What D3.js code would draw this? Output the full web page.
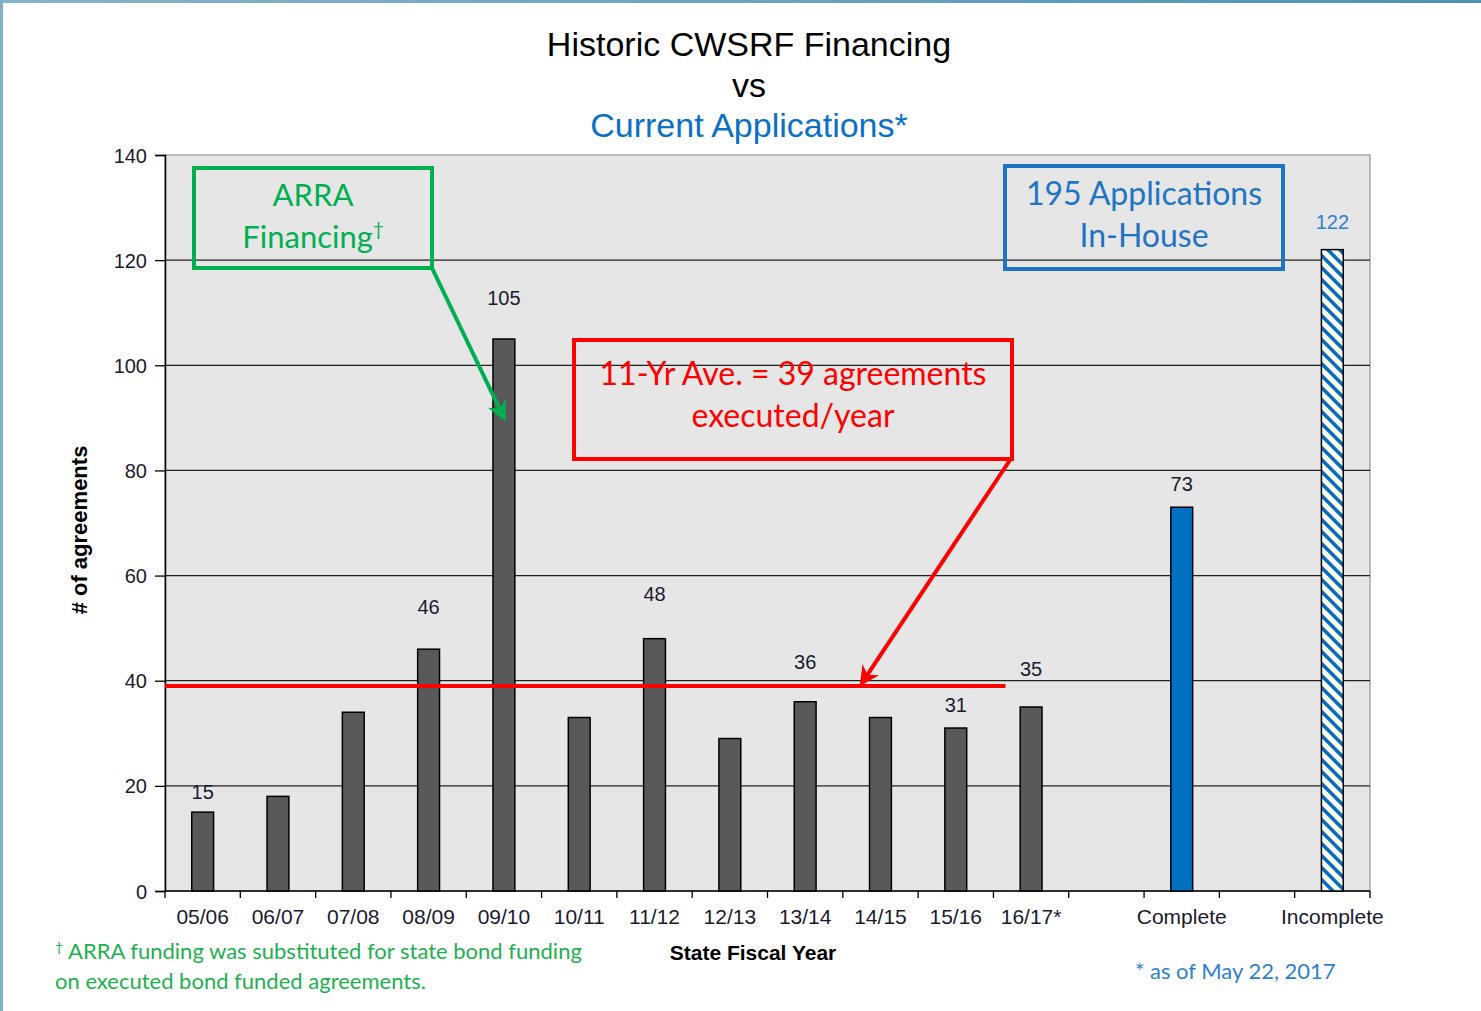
<!DOCTYPE html>
<html>
<head>
<meta charset="utf-8">
<script src="https://cdn.jsdelivr.net/npm/d3@7"></script>
<style>
  html, body { margin: 0; padding: 0; background: #fff; }
  svg { display: block; }
</style>
</head>
<body>
<svg id="chart" width="1481" height="1011"></svg>
<script>
// categories along the x axis (blank slots keep the gaps)
var categories = ['05/06','06/07','07/08','08/09','09/10','10/11','11/12','12/13','13/14','14/15','15/16','16/17*','', 'Complete', ' ', 'Incomplete'];
// agreements executed per state fiscal year, then current applications
var values = [15, 18, 34, 46, 105, 33, 48, 29, 36, 33, 31, 35, null, 73, null, 122];
// which bars carry a value label
var showLabel = [true, false, false, true, true, false, true, false, true, false, true, true, false, true, false, true];
var yTicks = [0, 20, 40, 60, 80, 100, 120, 140];
var average = 39;

var svg = d3.select('#chart'),
    margin = {top: 155, right: 111, bottom: 120, left: 165},
    width = 1481 - margin.left - margin.right,
    height = 1011 - margin.top - margin.bottom;

var armFont = '"Liberation Sans", Arial, sans-serif',
    noteFont = 'Lato, "Open Sans", sans-serif';

// frame around the slide
var defs = svg.append('defs');
var grad = defs.append('linearGradient').attr('id', 'topEdge');
grad.append('stop').attr('offset', '0%').attr('stop-color', '#86b4ca');
grad.append('stop').attr('offset', '100%').attr('stop-color', '#4e93b3');
svg.append('rect').attr('x', 0).attr('y', 0).attr('width', 1481).attr('height', 3).attr('fill', 'url(#topEdge)');
svg.append('rect').attr('x', 0).attr('y', 0).attr('width', 3).attr('height', 1011).attr('fill', '#7fb0c8');

// hatch for the incomplete bar
var hatch = defs.append('pattern')
    .attr('id', 'hatch')
    .attr('patternUnits', 'userSpaceOnUse')
    .attr('width', 12).attr('height', 12);
hatch.append('rect').attr('width', 12).attr('height', 12).attr('fill', '#fff');
hatch.append('path')
    .attr('d', 'M-3,-3 L15,15 M-3,9 L3,15 M9,-3 L15,3')
    .attr('stroke', '#0a6cc0')
    .attr('stroke-width', 3.6);

// titles
var title = svg.append('g').attr('font-family', armFont).attr('text-anchor', 'middle');
title.append('text').attr('x', 749).attr('y', 56).attr('font-size', 34).attr('fill', '#000').text('Historic CWSRF Financing');
title.append('text').attr('x', 749).attr('y', 97).attr('font-size', 34).attr('fill', '#000').text('vs');
title.append('text').attr('x', 749).attr('y', 137).attr('font-size', 34).attr('fill', '#0a70c8').text('Current Applications*');

var g = svg.append('g').attr('transform', 'translate(' + margin.left + ',' + margin.top + ')');

var x = d3.scaleBand().domain(categories).range([0, width]).padding(0);
var y = d3.scaleLinear().domain([0, 140]).range([height, 0]);
var barW = x.bandwidth() * 0.29;

// plot area
g.append('rect')
    .attr('width', width).attr('height', height)
    .attr('fill', '#e6e6e6')
    .attr('stroke', '#a6a6a6').attr('stroke-width', 1.5);

// gridlines
g.selectAll('line.grid')
    .data(yTicks.filter(function(d) { return d > 0 && d < 140; }))
    .enter().append('line')
    .attr('class', 'grid')
    .attr('x1', 0).attr('x2', width)
    .attr('y1', function(d) { return y(d); })
    .attr('y2', function(d) { return y(d); })
    .attr('stroke', '#222').attr('stroke-width', 1.3);

// y axis
var yAxis = d3.axisLeft(y).tickValues(yTicks).tickSize(10).tickPadding(8);
var yg = g.append('g').call(yAxis);
yg.select('.domain').attr('stroke', '#000').attr('stroke-width', 1.5);
yg.selectAll('.tick line').attr('stroke', '#000').attr('stroke-width', 1.3);
yg.selectAll('.tick text')
    .attr('font-family', armFont).attr('font-size', 20).attr('fill', '#1a1a2e')
    .attr('dy', '0.35em');

// x axis: ticks sit between the categories
var xg = g.append('g').attr('transform', 'translate(0,' + height + ')');
xg.append('line').attr('x1', 0).attr('x2', width).attr('stroke', '#000').attr('stroke-width', 1.5);
xg.selectAll('line.tick')
    .data(d3.range(categories.length + 1))
    .enter().append('line')
    .attr('x1', function(i) { return i * x.step(); })
    .attr('x2', function(i) { return i * x.step(); })
    .attr('y1', 0).attr('y2', 7)
    .attr('stroke', '#000').attr('stroke-width', 1.3);
xg.selectAll('text')
    .data(categories)
    .enter().append('text')
    .attr('x', function(d) { return x(d) + x.bandwidth() / 2; })
    .attr('y', 33)
    .attr('text-anchor', 'middle')
    .attr('font-family', armFont).attr('font-size', 21).attr('fill', '#1a1a2e')
    .text(function(d) { return d.trim(); });

// axis titles
svg.append('text')
    .attr('x', 753).attr('y', 960)
    .attr('text-anchor', 'middle')
    .attr('font-family', armFont).attr('font-size', 21).attr('font-weight', 'bold')
    .text('State Fiscal Year');
svg.append('text')
    .attr('transform', 'translate(87,530) rotate(-90)')
    .attr('text-anchor', 'middle')
    .attr('font-family', armFont).attr('font-size', 22).attr('font-weight', 'bold')
    .text('# of agreements');

// bars
var barData = categories.map(function(c, i) { return {cat: c, v: values[i], i: i}; })
    .filter(function(d) { return d.v !== null; });

function barFill(d) {
    if (d.cat === 'Complete') return '#0070c0';
    if (d.cat === 'Incomplete') return 'url(#hatch)';
    return '#595959';
}

g.selectAll('rect.bar')
    .data(barData)
    .enter().append('rect')
    .attr('class', 'bar')
    .attr('x', function(d) { return x(d.cat) + (x.bandwidth() - barW) / 2; })
    .attr('y', function(d) { return y(d.v); })
    .attr('width', barW)
    .attr('height', function(d) { return height - y(d.v); })
    .attr('fill', barFill)
    .attr('stroke', '#000').attr('stroke-width', 1.5);

// labels were nudged by hand in the original, so lift each one a little differently
var labelLift = {0: 13, 3: 35, 4: 34, 6: 38, 8: 33, 10: 16, 11: 31, 13: 16, 15: 21};
g.selectAll('text.val')
    .data(barData.filter(function(d) { return showLabel[d.i]; }))
    .enter().append('text')
    .attr('class', 'val')
    .attr('x', function(d) { return x(d.cat) + x.bandwidth() / 2; })
    .attr('y', function(d) { return y(d.v) - labelLift[d.i]; })
    .attr('text-anchor', 'middle')
    .attr('font-family', armFont).attr('font-size', 20)
    .attr('fill', function(d) { return d.cat === 'Incomplete' ? '#2f7fd0' : '#1a1a2e'; })
    .text(function(d) { return d.v; });

// 11-year average line
var avgEnd = x('16/17*') + x.bandwidth() * 0.16;
g.append('line')
    .attr('x1', 0).attr('x2', avgEnd)
    .attr('y1', y(average)).attr('y2', y(average))
    .attr('stroke', '#ff0000').attr('stroke-width', 4);

// arrow heads
function marker(id, color) {
    defs.append('marker')
        .attr('id', id)
        .attr('viewBox', '0 0 10 10')
        .attr('refX', 8).attr('refY', 5)
        .attr('markerWidth', 5).attr('markerHeight', 5)
        .attr('orient', 'auto')
        .append('path')
        .attr('d', 'M0,0 L10,5 L0,10 L3,5 Z')
        .attr('fill', color);
}
marker('arrowGreen', '#00b050');
marker('arrowRed', '#ff0000');

// annotation boxes; a line may end in a superscript mark
function callout(box, color, lines, size, arrow, markerId) {
    var a = svg.append('g');
    a.append('rect')
        .attr('x', box.x).attr('y', box.y).attr('width', box.w).attr('height', box.h)
        .attr('fill', 'none').attr('stroke', color).attr('stroke-width', 4);
    lines.forEach(function(t, i) {
        var txt = a.append('text')
            .attr('x', box.x + box.w / 2)
            .attr('y', box.y + box.h * 0.38 + i * 42)
            .attr('text-anchor', 'middle')
            .attr('font-family', noteFont).attr('font-size', size)
            .attr('fill', color);
        var parts = t.split('^');
        txt.append('tspan').text(parts[0]);
        if (parts[1]) {
            txt.append('tspan').attr('font-size', size * 0.6).attr('dy', -size * 0.38).text(parts[1]);
        }
    });
    if (arrow) {
        a.append('line')
            .attr('x1', arrow[0]).attr('y1', arrow[1])
            .attr('x2', arrow[2]).attr('y2', arrow[3])
            .attr('stroke', color).attr('stroke-width', 4)
            .attr('marker-end', 'url(#' + markerId + ')');
    }
}

var bar0910 = margin.left + x('09/10') + x.bandwidth() / 2;
callout({x: 194, y: 168, w: 238, h: 100}, '#00b050', ['ARRA', 'Financing^\u2020'], 31,
        [432, 268, bar0910, margin.top + y(90)], 'arrowGreen');
callout({x: 574, y: 340, w: 438, h: 119}, '#ff0000', ['11-Yr Ave. = 39 agreements', 'executed/year'], 32,
        [1010, 460, 862, margin.top + y(average) - 3], 'arrowRed');
callout({x: 1005, y: 166, w: 278, h: 103}, '#1f74c4', ['195 Applications', 'In-House'], 32, null);

// footnotes
var foot = svg.append('g').attr('font-family', noteFont).attr('font-size', 22);
var f1 = foot.append('text').attr('x', 55).attr('y', 959).attr('fill', '#22b04f');
f1.append('tspan').attr('font-size', 14).attr('dy', -7).text('\u2020');
f1.append('tspan').attr('dy', 7).text(' ARRA funding was substituted for state bond funding');
foot.append('text').attr('x', 55).attr('y', 989).attr('fill', '#22b04f').text('on executed bond funded agreements.');
foot.append('text').attr('x', 1135).attr('y', 979).attr('fill', '#2f7fd0').text('* as of May 22, 2017');
</script>
</body>
</html>
